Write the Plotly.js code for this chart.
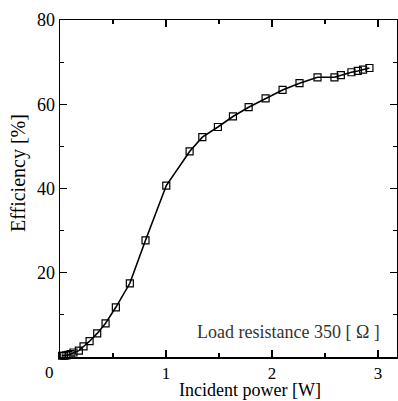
<!DOCTYPE html>
<html><head><meta charset="utf-8">
<script src="https://cdn.plot.ly/plotly-3.0.1.min.js"></script>
<style>html,body{margin:0;padding:0;background:#fff}#c{width:398px;height:401px}</style>
</head><body><div id="c"></div>
<script>
const power = [0.02,0.04,0.06,0.08,0.10,0.127,0.178,0.222,0.279,0.351,0.43,0.527,0.659,0.807,1.003,1.223,1.343,1.49,1.632,1.78,1.94,2.10,2.26,2.43,2.59,2.65,2.75,2.81,2.86,2.92];
const efficiency = [0.3,0.3,0.4,0.5,0.7,1.07,1.5,2.5,3.75,5.6,8.0,11.8,17.5,27.7,40.7,48.8,52.2,54.6,57.1,59.3,61.4,63.4,65.0,66.4,66.4,66.9,67.6,67.9,68.2,68.6];
const xTicks = [1,2,3];
const yTicks = [20,40,60,80];
const xTitle = 'Incident power [W]';
const yTitle = 'Efficiency [%]';
const note = 'Load resistance 350 [ Ω ]';

const serif = '"Times New Roman", "Liberation Serif", serif';
const axisCommon = {
  showline:true, linecolor:'#000', linewidth:1.5, mirror:'allticks',
  ticks:'inside', ticklen:7, tickwidth:1.2, tickcolor:'#000',
  showgrid:false, zeroline:false,
  tickfont:{family:serif, size:18, color:'#000'},
  fixedrange:true
};
const layout = {
  width:398, height:401,
  margin:{l:60, r:1, t:20, b:44},
  paper_bgcolor:'#fff', plot_bgcolor:'#fff',
  showlegend:false,
  xaxis:Object.assign({}, axisCommon, {
    range:[0,3.18], tickvals:xTicks, ticktext:xTicks.map(String),
    tickfont:{family:serif, size:17, color:'#000'},
    minor:{tickvals:[0.5,1.5,2.5], ticks:'inside', ticklen:4, tickcolor:'#000', tickwidth:1.2}
  }),
  yaxis:Object.assign({}, axisCommon, {
    range:[0,80], tickvals:yTicks, ticktext:yTicks.map(String),
    minor:{tickvals:[10,30,50,70], ticks:'inside', ticklen:4, tickcolor:'#000', tickwidth:1.2}
  }),
  annotations:[
    {text:xTitle, xref:'paper', yref:'paper', x:0.564, y:0, yshift:-33, xanchor:'center', yanchor:'middle', showarrow:false, font:{family:serif, size:18, color:'#000'}},
    {text:yTitle, xref:'paper', yref:'paper', x:0, xshift:-41, y:0.546, xanchor:'center', yanchor:'middle', textangle:-90, showarrow:false, font:{family:serif, size:20, color:'#000'}},
    {text:note, xref:'paper', yref:'paper', x:0.955, y:0.073, xanchor:'right', yanchor:'middle', showarrow:false, font:{family:serif, size:18, color:'#333'}},
    {text:'0', xref:'paper', yref:'paper', x:0, xshift:-11, y:0, yshift:-15, xanchor:'center', yanchor:'middle', showarrow:false, font:{family:serif, size:17, color:'#000'}}
  ]
};
const trace = {
  x:power, y:efficiency, type:'scatter', mode:'lines+markers',
  line:{color:'#000', width:1.6},
  marker:{symbol:'square-open', size:7, color:'#000', line:{width:1.2}},
  cliponaxis:false
};
Plotly.newPlot('c', [trace], layout, {displayModeBar:false, staticPlot:true});
</script></body></html>
